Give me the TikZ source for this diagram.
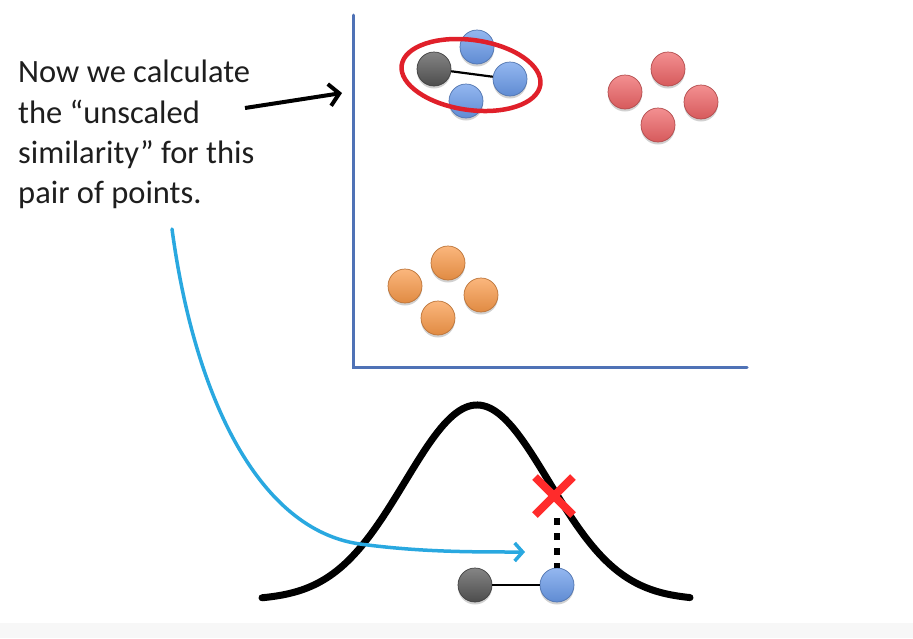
\documentclass[tikz,border=0pt]{standalone}
\usepackage{fontspec}
\setmainfont{Carlito}
\usetikzlibrary{arrows.meta,shadows}
\definecolor{axisblue}{HTML}{4F72B6}
\definecolor{ballblue}{HTML}{6A9BEA}
\definecolor{ballred}{HTML}{EE6466}
\definecolor{ballorange}{HTML}{F99A4A}
\definecolor{ballgray}{HTML}{555555}
\definecolor{ringred}{HTML}{E0202A}
\definecolor{xred}{HTML}{FF2B2B}
\definecolor{cyanarrow}{HTML}{29A8E0}
\definecolor{txt}{HTML}{1E1E1E}
\tikzset{
  ball/.style={circle, minimum size=34, inner sep=0, line width=0.7,
    draw=#1!75!black, top color=#1!72!white, bottom color=#1!90!black,
    drop shadow={opacity=0.18, shadow xshift=0pt, shadow yshift=-2.5pt, fill=black}},
  axis/.style={axisblue, line width=3, line cap=round},
  label/.style={anchor=base west, inner sep=0, text=txt,
    font=\fontsize{32.5}{40.5}\selectfont},
  pairline/.style={black, line width=2.2},
  gauss/.style={black, line width=7, line cap=round},
  cross/.style={xred, line width=8},
  dots/.style={black, line width=6.5, dash pattern=on 6.5 off 8.5},
}
\begin{document}
\begin{tikzpicture}[x=1pt,y=-1pt]
\useasboundingbox[fill=white] (0,0) rectangle (913,638);
\fill[black!3] (0,623) rectangle (913,638);

% axes
\coordinate (ytop) at (353,15);
\coordinate (orig) at (353,367);
\coordinate (xend) at (747,367);
\draw[axis] (ytop) -- (orig) -- (xend);

% blue cluster
\node[ball=ballblue] (b1) at (477,47) {};
\node[ball=ballblue] (b2) at (510,79) {};
\node[ball=ballblue] (b3) at (466,101) {};
\node[ball=ballgray] (g1) at (434,69) {};
\draw[pairline] (g1) -- (b2);
\draw[ringred, line width=4.5] (471,75) ellipse [x radius=70, y radius=35, rotate=-8];

% red cluster
\node[ball=ballred] (r1) at (668,69) {};
\node[ball=ballred] (r2) at (625,92) {};
\node[ball=ballred] (r3) at (701,102) {};
\node[ball=ballred] (r4) at (658,125) {};

% orange cluster
\node[ball=ballorange] (o1) at (448,263) {};
\node[ball=ballorange] (o2) at (405,286) {};
\node[ball=ballorange] (o3) at (481,295) {};
\node[ball=ballorange] (o4) at (438,318) {};

% text
\node[label] (t1) at (18,82) {Now we calculate};
\node[label] (t2) at (18,123) {the “unscaled};
\node[label] (t3) at (18,163) {similarity” for this};
\node[label] (t4) at (18,203) {pair of points.};

% black arrow
\coordinate (as) at (245,108);
\coordinate (ae) at (342,93);
\draw[black, line width=4, -{Straight Barb[length=10pt, width=22pt, line width=4pt]}] (as) -- (ae);

% gaussian
\draw[gauss] plot[domain=262:690, samples=140] (\x, {600-195*exp(-0.5*((\x-477)/72)^2)});

% bottom pair
\node[ball=ballgray] (g2) at (475,585) {};
\node[ball=ballblue] (b4) at (557,585) {};
\draw[pairline] (g2) -- (b4);

% cross and dotted line
\coordinate (xm) at (554,496);
\draw[cross] (535,477) -- (573,515);
\draw[cross] (535,515) -- (573,477);
\coordinate (dtop) at (557,518);
\draw[dots] (dtop) -- (b4.north);

% cyan arrow
\coordinate (cs) at (172,229);
\coordinate (cm) at (360,544);
\coordinate (ce) at (525,552);
\draw[cyanarrow, line width=3.5, line cap=round, -{Straight Barb[length=8pt, width=18pt, line width=3.5pt]}]
  (cs) .. controls (195,400) and (260,530) .. (cm)
       .. controls (420,552) and (470,552) .. (ce);
\end{tikzpicture}
\end{document}
